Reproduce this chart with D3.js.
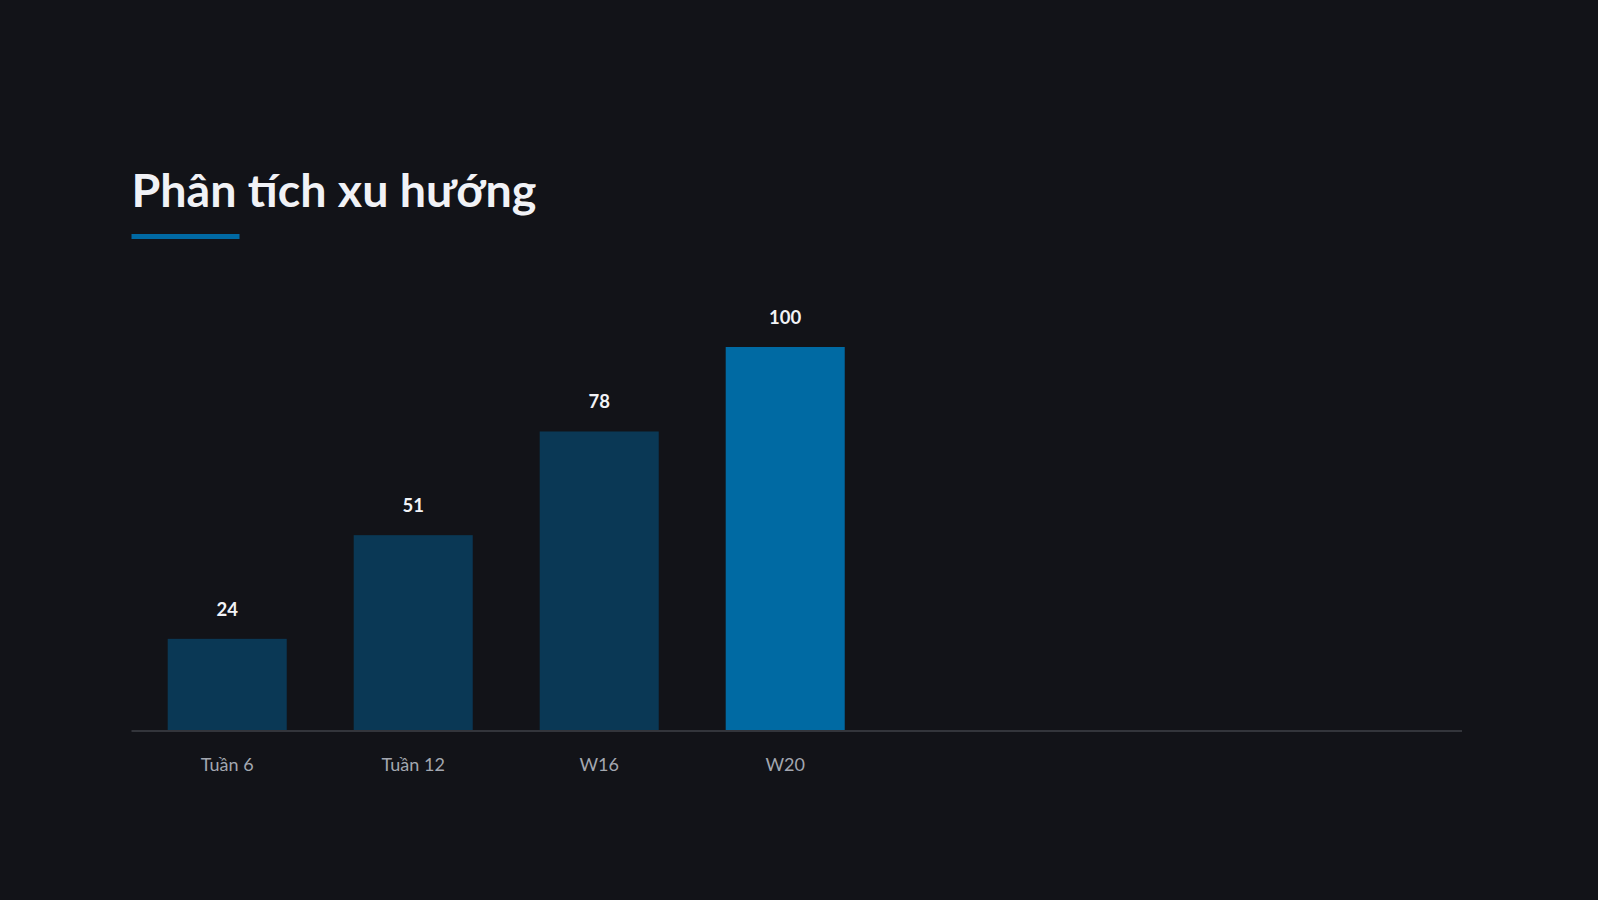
<!DOCTYPE html>
<html>
<head>
<meta charset="utf-8">
<script src="https://cdn.jsdelivr.net/npm/d3@7"></script>
<style>
  html, body { margin: 0; padding: 0; background: #121318; }
  svg { display: block; font-family: Lato, "Noto Sans", sans-serif; }
</style>
</head>
<body>
<div id="chart"></div>
<script>
// data
const categories = ["Tuần 6", "Tuần 12", "W16", "W20"];
const values = [24, 51, 78, 100];
const highlight = ["W20"];
const title = "Phân tích xu hướng";

const width = 1598, height = 900;
const margin = {top: 347, right: 136, bottom: 169, left: 131.5};
const plotW = width - margin.left - margin.right,
      plotH = height - margin.top - margin.bottom;

const svg = d3.select("#chart")
  .append("svg")
    .attr("width", width)
    .attr("height", height);

svg.append("rect")
  .attr("width", width)
  .attr("height", height)
  .attr("fill", "#121318");

// title + accent underline
svg.append("text")
  .attr("x", margin.left)
  .attr("y", 207)
  .attr("fill", "#f1f2f6")
  .style("font-size", "46.6px")
  .style("font-weight", 700)
  .text(title);

svg.append("rect")
  .attr("x", margin.left)
  .attr("y", 234)
  .attr("width", 108)
  .attr("height", 5)
  .attr("fill", "#0069a3");

const g = svg.append("g")
  .attr("transform", `translate(${margin.left}, ${margin.top})`);

// scales
const step = 186;
const x = d3.scaleBand()
  .domain(categories)
  .range([-1, step * (categories.length - 0.36 + 0.4) - 1])
  .paddingInner(0.36)
  .paddingOuter(0.2);

const y = d3.scaleLinear()
  .domain([0, d3.max(values)])
  .range([plotH, 0]);

const data = categories.map((c, i) => ({cat: c, value: values[i]}));

// bars
g.selectAll(".bar")
  .data(data)
  .enter()
  .append("rect")
    .attr("class", "bar")
    .attr("x", d => x(d.cat))
    .attr("y", d => y(d.value))
    .attr("width", x.bandwidth())
    .attr("height", d => plotH - y(d.value))
    .attr("fill", d => highlight.includes(d.cat) ? "#006aa3" : "#0a3855");

// value labels
g.selectAll(".val")
  .data(data)
  .enter()
  .append("text")
    .attr("class", "val")
    .attr("x", d => x(d.cat) + x.bandwidth() / 2)
    .attr("y", d => y(d.value) - 23)
    .attr("text-anchor", "middle")
    .attr("fill", "#f1f2f6")
    .style("font-size", "18.5px")
    .style("font-weight", 700)
    .text(d => d.value);

// x axis
const xAxis = g.append("g")
  .attr("transform", `translate(0, ${plotH})`)
  .call(d3.axisBottom(x).tickSize(0).tickPadding(0));
xAxis.select(".domain").remove();
xAxis.selectAll("text")
  .attr("y", 40)
  .attr("dy", null)
  .attr("fill", "#a3a7b0")
  .style("font-family", "Lato, 'Noto Sans', sans-serif")
  .style("font-size", "18px");

// baseline
g.append("line")
  .attr("x1", 0)
  .attr("x2", plotW)
  .attr("y1", plotH)
  .attr("y2", plotH)
  .attr("stroke", "#33353b")
  .attr("stroke-width", 2);
</script>
</body>
</html>
